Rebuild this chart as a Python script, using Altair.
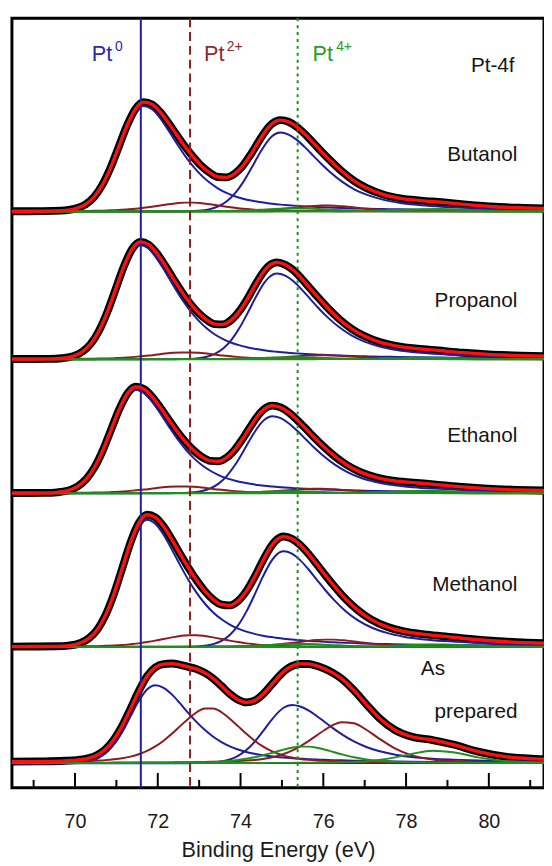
import altair as alt
import pandas as pd

# ---------------- data (heights, in plot pixels above each baseline) -------------
# energy offsets (eV) from each spectrum's Pt0 4f7/2 centre at which curves are sampled
DELTA_EV = [-3.6, -2.8, -2.2, -1.9, -1.6, -1.4, -1.2, -1.0, -0.8, -0.6, -0.4, -0.2, 0.0, 0.2, 0.4,
            0.6, 0.8, 1.0, 1.2, 1.4, 1.6, 1.8, 2.0, 2.2, 2.4, 2.6, 2.8, 3.0, 3.1, 3.3, 3.5, 3.7,
            3.9, 4.1, 4.3, 4.5, 4.8, 5.1, 5.4, 5.8, 6.2, 6.7, 7.2, 7.8, 8.5, 9.2, 10.0]

SAMPLES = ["Butanol", "Propanol", "Ethanol", "Methanol", "As prepared"]
PT0_CENTRE_EV = [71.66, 71.58, 71.47, 71.74, 71.94]
STACK_OFFSET = [585, 435, 299, 143, 25]

# Butanol
BUT_PT0_A = [0, 0, 0.1, 0.6, 2.9, 6.7, 13.9, 26.0, 43.2, 64.3, 85.3, 101.1, 107, 103.6, 94.5, 82.1, 68.9, 56.4, 45.5, 36.3, 29.0, 23.2, 18.8, 15.4, 12.9, 11.0, 9.5, 8.3, 7.8, 6.9, 6.2, 5.6, 5.1, 4.6, 4.2, 3.9, 3.4, 3.0, 2.7, 2.4, 2.1, 1.8, 1.6, 1.3, 1.1, 1.0, 0.8]
BUT_PT0_B = [0, 0, 0, 0, 0, 0, 0, 0, 0, 0, 0, 0, 0, 0, 0, 0, 0, 0.1, 0.3, 0.9, 2.3, 5.0, 10.0, 18.0, 29.5, 43.7, 58.8, 71.6, 76.2, 80, 78.0, 72.6, 65.0, 56.4, 47.8, 40.0, 30.0, 22.2, 16.7, 11.7, 8.6, 6.3, 4.8, 3.7, 2.8, 2.2, 1.7]
BUT_PT2_A = [0.1, 0.2, 0.3, 0.3, 0.4, 0.5, 0.6, 0.8, 1.1, 1.4, 2.0, 2.7, 3.7, 4.8, 6.0, 7.3, 8.3, 8.9, 8.9, 8.3, 7.3, 6.0, 4.8, 3.7, 2.7, 2.0, 1.4, 1.1, 0.9, 0.7, 0.6, 0.5, 0.4, 0.3, 0.3, 0.3, 0.2, 0.2, 0.2, 0.1, 0.1, 0.1, 0.1, 0.1, 0.1, 0.1, 0]
BUT_PT2_B = [0, 0, 0.1, 0.1, 0.1, 0.1, 0.1, 0.1, 0.1, 0.1, 0.1, 0.1, 0.1, 0.1, 0.1, 0.1, 0.2, 0.2, 0.2, 0.2, 0.3, 0.3, 0.4, 0.5, 0.6, 0.8, 1.1, 1.6, 1.8, 2.4, 3.2, 4.0, 4.8, 5.5, 5.9, 5.9, 5.2, 4.0, 2.8, 1.6, 0.8, 0.4, 0.3, 0.2, 0.1, 0.1, 0.1]
BUT_PT4_A = [0, 0, 0, 0, 0, 0, 0, 0, 0.1, 0.1, 0.1, 0.1, 0.1, 0.1, 0.1, 0.1, 0.1, 0.1, 0.2, 0.2, 0.3, 0.4, 0.5, 0.7, 0.9, 1.2, 1.6, 2.0, 2.2, 2.6, 2.9, 3.0, 2.9, 2.6, 2.2, 1.8, 1.2, 0.8, 0.5, 0.3, 0.2, 0.1, 0.1, 0.1, 0, 0, 0]
BUT_PT4_B = [0, 0, 0, 0, 0, 0, 0, 0, 0, 0, 0, 0, 0, 0, 0, 0, 0, 0, 0, 0, 0, 0, 0, 0, 0, 0, 0, 0, 0, 0.1, 0.1, 0.1, 0.1, 0.1, 0.1, 0.1, 0.2, 0.3, 0.5, 0.9, 1.5, 2.3, 2.4, 1.5, 0.6, 0.2, 0.1]

# Propanol
PRO_PT0_A = [0, 0, 0.1, 0.7, 3.1, 7.3, 15.1, 28.2, 46.9, 69.7, 92.5, 109.6, 116, 112.3, 102.4, 89.0, 74.6, 61.1, 49.3, 39.4, 31.4, 25.1, 20.4, 16.7, 14.0, 11.9, 10.3, 9.0, 8.4, 7.5, 6.7, 6.1, 5.5, 5.0, 4.6, 4.2, 3.7, 3.3, 3.0, 2.6, 2.3, 1.9, 1.7, 1.5, 1.2, 1.0, 0.9]
PRO_PT0_B = [0, 0, 0, 0, 0, 0, 0, 0, 0, 0, 0, 0, 0, 0, 0, 0, 0, 0.1, 0.3, 1.0, 2.5, 5.4, 10.8, 19.6, 32.1, 47.6, 63.9, 77.9, 82.8, 87, 84.8, 79.0, 70.6, 61.3, 52.0, 43.5, 32.6, 24.2, 18.1, 12.7, 9.4, 6.8, 5.3, 4.0, 3.1, 2.4, 1.9]
PRO_PT2_A = [0.1, 0.2, 0.2, 0.3, 0.3, 0.4, 0.5, 0.6, 0.8, 1.1, 1.5, 2.1, 2.9, 3.7, 4.7, 5.7, 6.5, 6.9, 6.9, 6.5, 5.7, 4.7, 3.7, 2.9, 2.1, 1.5, 1.1, 0.8, 0.7, 0.5, 0.4, 0.4, 0.3, 0.3, 0.2, 0.2, 0.2, 0.1, 0.1, 0.1, 0.1, 0.1, 0.1, 0.1, 0, 0, 0]
PRO_PT2_B = [0, 0, 0, 0, 0, 0, 0, 0.1, 0.1, 0.1, 0.1, 0.1, 0.1, 0.1, 0.1, 0.1, 0.1, 0.1, 0.1, 0.1, 0.2, 0.2, 0.2, 0.3, 0.4, 0.5, 0.8, 1.0, 1.2, 1.6, 2.1, 2.7, 3.2, 3.7, 4.0, 4.0, 3.5, 2.7, 1.9, 1.0, 0.5, 0.3, 0.2, 0.1, 0.1, 0.1, 0]
PRO_PT4_A = [0, 0, 0, 0, 0, 0, 0, 0, 0, 0, 0, 0, 0, 0.1, 0.1, 0.1, 0.1, 0.1, 0.1, 0.1, 0.2, 0.2, 0.3, 0.4, 0.6, 0.8, 1.1, 1.3, 1.5, 1.7, 1.9, 2.0, 1.9, 1.7, 1.5, 1.2, 0.8, 0.5, 0.3, 0.2, 0.1, 0.1, 0.1, 0, 0, 0, 0]
PRO_PT4_B = [0, 0, 0, 0, 0, 0, 0, 0, 0, 0, 0, 0, 0, 0, 0, 0, 0, 0, 0, 0, 0, 0, 0, 0, 0, 0, 0, 0, 0, 0, 0, 0, 0, 0, 0.1, 0.1, 0.1, 0.2, 0.3, 0.5, 0.9, 1.4, 1.4, 0.9, 0.3, 0.1, 0.1]

# Ethanol
ETH_PT0_A = [0, 0, 0.1, 0.6, 2.8, 6.6, 13.7, 25.5, 42.4, 63.1, 83.7, 99.2, 105, 101.6, 92.7, 80.5, 67.6, 55.3, 44.6, 35.6, 28.4, 22.8, 18.4, 15.1, 12.7, 10.8, 9.3, 8.1, 7.6, 6.8, 6.1, 5.5, 5.0, 4.5, 4.1, 3.8, 3.4, 3.0, 2.7, 2.3, 2.0, 1.8, 1.5, 1.3, 1.1, 0.9, 0.8]
ETH_PT0_B = [0, 0, 0, 0, 0, 0, 0, 0, 0, 0, 0, 0, 0, 0, 0, 0, 0, 0.1, 0.3, 0.9, 2.2, 4.9, 9.7, 17.6, 28.8, 42.7, 57.3, 69.8, 74.2, 78, 76.1, 70.8, 63.3, 55.0, 46.6, 39.0, 29.2, 21.7, 16.2, 11.4, 8.4, 6.1, 4.7, 3.6, 2.8, 2.2, 1.7]
ETH_PT2_A = [0.1, 0.2, 0.2, 0.3, 0.3, 0.4, 0.5, 0.6, 0.8, 1.1, 1.5, 2.1, 2.9, 3.7, 4.7, 5.7, 6.5, 6.9, 6.9, 6.5, 5.7, 4.7, 3.7, 2.9, 2.1, 1.5, 1.1, 0.8, 0.7, 0.5, 0.4, 0.4, 0.3, 0.3, 0.2, 0.2, 0.2, 0.1, 0.1, 0.1, 0.1, 0.1, 0.1, 0.1, 0, 0, 0]
ETH_PT2_B = [0, 0, 0, 0, 0, 0.1, 0.1, 0.1, 0.1, 0.1, 0.1, 0.1, 0.1, 0.1, 0.1, 0.1, 0.1, 0.1, 0.1, 0.2, 0.2, 0.2, 0.3, 0.3, 0.5, 0.6, 0.8, 1.2, 1.4, 1.8, 2.4, 3.0, 3.6, 4.2, 4.5, 4.5, 3.9, 3.0, 2.1, 1.2, 0.6, 0.3, 0.2, 0.1, 0.1, 0.1, 0]
ETH_PT4_A = [0, 0, 0, 0, 0, 0, 0, 0, 0, 0, 0, 0, 0, 0.1, 0.1, 0.1, 0.1, 0.1, 0.1, 0.1, 0.2, 0.2, 0.3, 0.4, 0.6, 0.8, 1.1, 1.3, 1.5, 1.7, 1.9, 2.0, 1.9, 1.7, 1.5, 1.2, 0.8, 0.5, 0.3, 0.2, 0.1, 0.1, 0.1, 0, 0, 0, 0]
ETH_PT4_B = [0, 0, 0, 0, 0, 0, 0, 0, 0, 0, 0, 0, 0, 0, 0, 0, 0, 0, 0, 0, 0, 0, 0, 0, 0, 0, 0, 0, 0, 0.1, 0.1, 0.1, 0.1, 0.1, 0.1, 0.1, 0.2, 0.3, 0.5, 0.9, 1.5, 2.3, 2.4, 1.5, 0.6, 0.2, 0.1]

# Methanol
MET_PT0_A = [0, 0, 0.1, 0.8, 3.5, 8.1, 16.8, 31.3, 52.1, 77.5, 102.9, 121.9, 129, 124.9, 113.9, 98.9, 83.0, 68.0, 54.8, 43.8, 34.9, 28.0, 22.7, 18.6, 15.5, 13.2, 11.4, 10.0, 9.4, 8.3, 7.5, 6.7, 6.1, 5.6, 5.1, 4.7, 4.1, 3.7, 3.3, 2.9, 2.5, 2.2, 1.9, 1.6, 1.4, 1.2, 1.0]
MET_PT0_B = [0, 0, 0, 0, 0, 0, 0, 0, 0, 0, 0, 0, 0, 0, 0, 0, 0, 0.1, 0.4, 1.1, 2.8, 6.1, 12.1, 21.8, 35.8, 53.0, 71.3, 86.8, 92.3, 97, 94.6, 88.1, 78.8, 68.4, 58.0, 48.5, 36.3, 27.0, 20.2, 14.2, 10.4, 7.6, 5.9, 4.5, 3.4, 2.7, 2.1]
MET_PT2_A = [0.2, 0.3, 0.4, 0.4, 0.6, 0.7, 0.8, 1.1, 1.4, 1.9, 2.7, 3.6, 4.9, 6.4, 8.1, 9.7, 11.1, 11.9, 11.9, 11.1, 9.7, 8.1, 6.4, 4.9, 3.6, 2.7, 1.9, 1.4, 1.2, 0.9, 0.7, 0.6, 0.5, 0.4, 0.4, 0.3, 0.3, 0.3, 0.2, 0.2, 0.2, 0.1, 0.1, 0.1, 0.1, 0.1, 0.1]
MET_PT2_B = [0, 0.1, 0.1, 0.1, 0.1, 0.1, 0.1, 0.1, 0.1, 0.1, 0.1, 0.1, 0.1, 0.1, 0.2, 0.2, 0.2, 0.2, 0.2, 0.3, 0.3, 0.4, 0.5, 0.6, 0.8, 1.0, 1.4, 1.9, 2.3, 3.1, 4.0, 5.0, 6.1, 6.9, 7.4, 7.4, 6.5, 5.0, 3.5, 1.9, 1.0, 0.5, 0.3, 0.2, 0.2, 0.1, 0.1]
MET_PT4_A = [0, 0, 0, 0, 0, 0, 0, 0, 0.1, 0.1, 0.1, 0.1, 0.1, 0.1, 0.1, 0.1, 0.1, 0.1, 0.2, 0.2, 0.3, 0.4, 0.5, 0.7, 0.9, 1.2, 1.6, 2.0, 2.2, 2.6, 2.9, 3.0, 2.9, 2.6, 2.2, 1.8, 1.2, 0.8, 0.5, 0.3, 0.2, 0.1, 0.1, 0.1, 0, 0, 0]
MET_PT4_B = [0, 0, 0, 0, 0, 0, 0, 0, 0, 0, 0, 0, 0, 0, 0, 0, 0, 0, 0, 0, 0, 0, 0, 0, 0, 0, 0, 0, 0, 0.1, 0.1, 0.1, 0.1, 0.1, 0.1, 0.1, 0.2, 0.3, 0.5, 0.9, 1.5, 2.3, 2.4, 1.5, 0.6, 0.2, 0.1]

# As prepared
ASP_PT0_A = [0, 0, 0.1, 0.5, 2.1, 4.9, 10.3, 19.2, 31.9, 47.5, 63.0, 74.7, 79, 76.5, 69.8, 60.6, 50.8, 41.6, 33.6, 26.8, 21.4, 17.1, 13.9, 11.4, 9.5, 8.1, 7.0, 6.1, 5.7, 5.1, 4.6, 4.1, 3.7, 3.4, 3.1, 2.9, 2.5, 2.3, 2.0, 1.8, 1.5, 1.3, 1.2, 1.0, 0.8, 0.7, 0.6]
ASP_PT0_B = [0, 0, 0, 0, 0, 0, 0, 0, 0, 0, 0, 0, 0, 0, 0, 0, 0, 0.1, 0.2, 0.7, 1.7, 3.7, 7.4, 13.3, 21.7, 32.3, 43.4, 52.8, 56.2, 59, 57.5, 53.6, 47.9, 41.6, 35.3, 29.5, 22.1, 16.4, 12.3, 8.6, 6.3, 4.6, 3.6, 2.7, 2.1, 1.6, 1.3]
ASP_PT2_A = [0.8, 1.1, 1.5, 1.8, 2.2, 2.6, 3.1, 3.9, 5.0, 6.6, 9.0, 12.4, 17.0, 22.8, 29.8, 37.6, 45.2, 51.7, 55.5, 55.5, 51.7, 45.2, 37.6, 29.8, 22.8, 17.0, 12.4, 9.0, 7.7, 5.7, 4.3, 3.4, 2.8, 2.4, 2.1, 1.8, 1.5, 1.3, 1.1, 1.0, 0.8, 0.7, 0.6, 0.5, 0.4, 0.3, 0.3]
ASP_PT2_B = [0.4, 0.4, 0.5, 0.5, 0.5, 0.5, 0.5, 0.6, 0.6, 0.6, 0.6, 0.7, 0.7, 0.7, 0.8, 0.9, 1.0, 1.1, 1.2, 1.4, 1.6, 1.8, 2.1, 2.6, 3.3, 4.3, 5.8, 7.9, 9.3, 12.7, 17.1, 22.4, 28.2, 33.9, 38.8, 41.6, 40.5, 33.9, 25.2, 14.8, 7.9, 3.7, 2.1, 1.4, 0.9, 0.7, 0.5]
ASP_PT4_A = [0.2, 0.2, 0.2, 0.2, 0.2, 0.2, 0.3, 0.3, 0.3, 0.3, 0.4, 0.4, 0.4, 0.5, 0.6, 0.6, 0.7, 0.9, 1.0, 1.3, 1.7, 2.3, 3.2, 4.4, 6.0, 8.0, 10.2, 12.6, 13.7, 15.7, 16.8, 16.8, 15.7, 13.7, 11.4, 9.1, 6.0, 3.8, 2.3, 1.3, 0.9, 0.6, 0.4, 0.3, 0.2, 0.2, 0.2]
ASP_PT4_B = [0.1, 0.1, 0.1, 0.1, 0.1, 0.1, 0.1, 0.1, 0.1, 0.1, 0.1, 0.1, 0.1, 0.1, 0.1, 0.1, 0.1, 0.1, 0.1, 0.1, 0.2, 0.2, 0.2, 0.2, 0.2, 0.2, 0.3, 0.3, 0.3, 0.3, 0.4, 0.4, 0.5, 0.6, 0.7, 0.9, 1.3, 2.0, 3.3, 5.9, 9.4, 12.6, 11.0, 5.9, 2.0, 0.8, 0.4]

REF_EV = [71.59, 72.78, 75.38]
REF_KIND = ["Pt0", "Pt2+", "Pt4+"]
TICKS_MAJOR = [70, 72, 74, 76, 78, 80]
TICKS_MINOR = [69, 71, 73, 75, 77, 79, 81]

SPECTRA = [
    [("Pt0", BUT_PT0_A), ("Pt0", BUT_PT0_B), ("Pt2+", BUT_PT2_A), ("Pt2+", BUT_PT2_B), ("Pt4+", BUT_PT4_A), ("Pt4+", BUT_PT4_B)],
    [("Pt0", PRO_PT0_A), ("Pt0", PRO_PT0_B), ("Pt2+", PRO_PT2_A), ("Pt2+", PRO_PT2_B), ("Pt4+", PRO_PT4_A), ("Pt4+", PRO_PT4_B)],
    [("Pt0", ETH_PT0_A), ("Pt0", ETH_PT0_B), ("Pt2+", ETH_PT2_A), ("Pt2+", ETH_PT2_B), ("Pt4+", ETH_PT4_A), ("Pt4+", ETH_PT4_B)],
    [("Pt0", MET_PT0_A), ("Pt0", MET_PT0_B), ("Pt2+", MET_PT2_A), ("Pt2+", MET_PT2_B), ("Pt4+", MET_PT4_A), ("Pt4+", MET_PT4_B)],
    [("Pt0", ASP_PT0_A), ("Pt0", ASP_PT0_B), ("Pt2+", ASP_PT2_A), ("Pt2+", ASP_PT2_B), ("Pt4+", ASP_PT4_A), ("Pt4+", ASP_PT4_B)],
]

rows = []
for sample, centre, base, comps in zip(SAMPLES, PT0_CENTRE_EV, STACK_OFFSET, SPECTRA):
    for ci, (family, values) in enumerate(comps):
        for k, (d, v) in enumerate(zip(DELTA_EV, values)):
            rows.append({"sample": sample, "family": family, "curve": f"{sample}-{ci}",
                         "k": k, "E": round(centre + d, 3), "v": v, "base": base})
df = pd.DataFrame(rows)
df_base = pd.DataFrame({"base": STACK_OFFSET})
df_ref = pd.DataFrame({"E": REF_EV, "kind": REF_KIND})
df_major = pd.DataFrame({"E": TICKS_MAJOR})
df_minor = pd.DataFrame({"E": TICKS_MINOR})

# ---------------- styling -------------
BLUE = "#1e1e9a"
DRED = "#8a1c22"
GREEN = "#1f8f1f"
FONT = "Liberation Sans"

XS = alt.Scale(domain=[68.476, 81.333], nice=False, zero=False)
YS = alt.Scale(domain=[0, 781], nice=False, zero=False)
XAX = alt.Axis(values=TICKS_MAJOR, title="Binding Energy (eV)", format="d")


def xenc():
    return alt.X("E:Q", scale=XS, axis=XAX)


summed = alt.Chart(df).transform_aggregate(
    total="sum(v)", groupby=["sample", "k", "E", "base"]
).transform_calculate(y="datum.base + datum.total")

data_band = summed.mark_line(color="black", strokeWidth=8, interpolate="monotone", clip=True).encode(
    x=xenc(), y=alt.Y("y:Q", scale=YS, axis=None), detail="sample:N")

baselines = alt.Chart(df_base).mark_rule(color="#1c3f1c", strokeWidth=1.6).encode(
    y=alt.Y("base:Q", scale=YS, axis=None))

components = alt.Chart(df).transform_calculate(y="datum.base + datum.v").mark_line(
    strokeWidth=2, interpolate="monotone", clip=True).encode(
    x=xenc(), y=alt.Y("y:Q", scale=YS, axis=None),
    color=alt.Color("family:N", scale=alt.Scale(domain=["Pt0", "Pt2+", "Pt4+"], range=[BLUE, DRED, GREEN]), legend=None),
    detail="curve:N")

refs = alt.Chart(df_ref).mark_rule(strokeWidth=2).encode(
    x=xenc(),
    color=alt.Color("kind:N", scale=alt.Scale(domain=REF_KIND, range=["#2424b8", "#8e2a2a", "#24a024"]), legend=None),
    strokeDash=alt.StrokeDash("kind:N", scale=alt.Scale(domain=REF_KIND, range=[[1, 0], [9, 5], [3, 4]]), legend=None))

fit = summed.mark_line(color="#ff1010", strokeWidth=3.4, interpolate="monotone", clip=True).encode(
    x=xenc(), y=alt.Y("y:Q", scale=YS, axis=None), detail="sample:N")

major = alt.Chart(df_major).mark_rule(color="black", strokeWidth=2).encode(
    x=xenc(), y=alt.YDatum(0, scale=YS, axis=None), y2=alt.Y2Datum(15))
minor = alt.Chart(df_minor).mark_rule(color="black", strokeWidth=2).encode(
    x=xenc(), y=alt.YDatum(0, scale=YS, axis=None), y2=alt.Y2Datum(8))


def label(text, e, yv, color="#151515", size=21, align="left"):
    return alt.Chart(df_major).transform_filter("datum.E == 70").mark_text(
        text=text, color=color, fontSize=size, align=align, baseline="alphabetic", font=FONT).encode(
        x=alt.XDatum(e, scale=XS, axis=XAX), y=alt.YDatum(yv, scale=YS, axis=None))


texts = [
    label("Pt", 70.405, 738, "#2a2aa8", 22), label("0", 70.964, 748, "#2a2aa8", 14),
    label("Pt", 73.119, 738, "#8e2a2a", 22), label("2+", 73.667, 748, "#8e2a2a", 14),
    label("Pt", 75.738, 738, "#24a024", 22), label("4+", 76.31, 748, "#24a024", 14),
    label("Pt-4f", 80.095, 726, align="center"),
    label("Butanol", 80.69, 636, align="right"),
    label("Propanol", 80.69, 488, align="right"),
    label("Ethanol", 80.69, 351, align="right"),
    label("Methanol", 80.69, 200, align="right"),
    label("As", 78.357, 114),
    label("prepared", 80.69, 71, align="right"),
]

chart = alt.layer(data_band, baselines, components, refs, fit, major, minor, *texts).properties(
    width=540, height=781,
    autosize=alt.AutoSizeParams(type="none"),
    padding={"left": 4, "top": 4, "right": 0, "bottom": 78},
).configure(font=FONT).configure_view(
    stroke="black", strokeWidth=3
).configure_axisX(
    domain=False, grid=False, ticks=False, tickSize=0, labelFontSize=20, labelColor="#1a1a1a",
    labelPadding=24, titleFontSize=22, titleFontWeight="normal", titleColor="#1a1a1a", titlePadding=9,
    labelFont=FONT, titleFont=FONT
)

chart.save("out.html", embed_options={"renderer": "svg", "actions": False})
